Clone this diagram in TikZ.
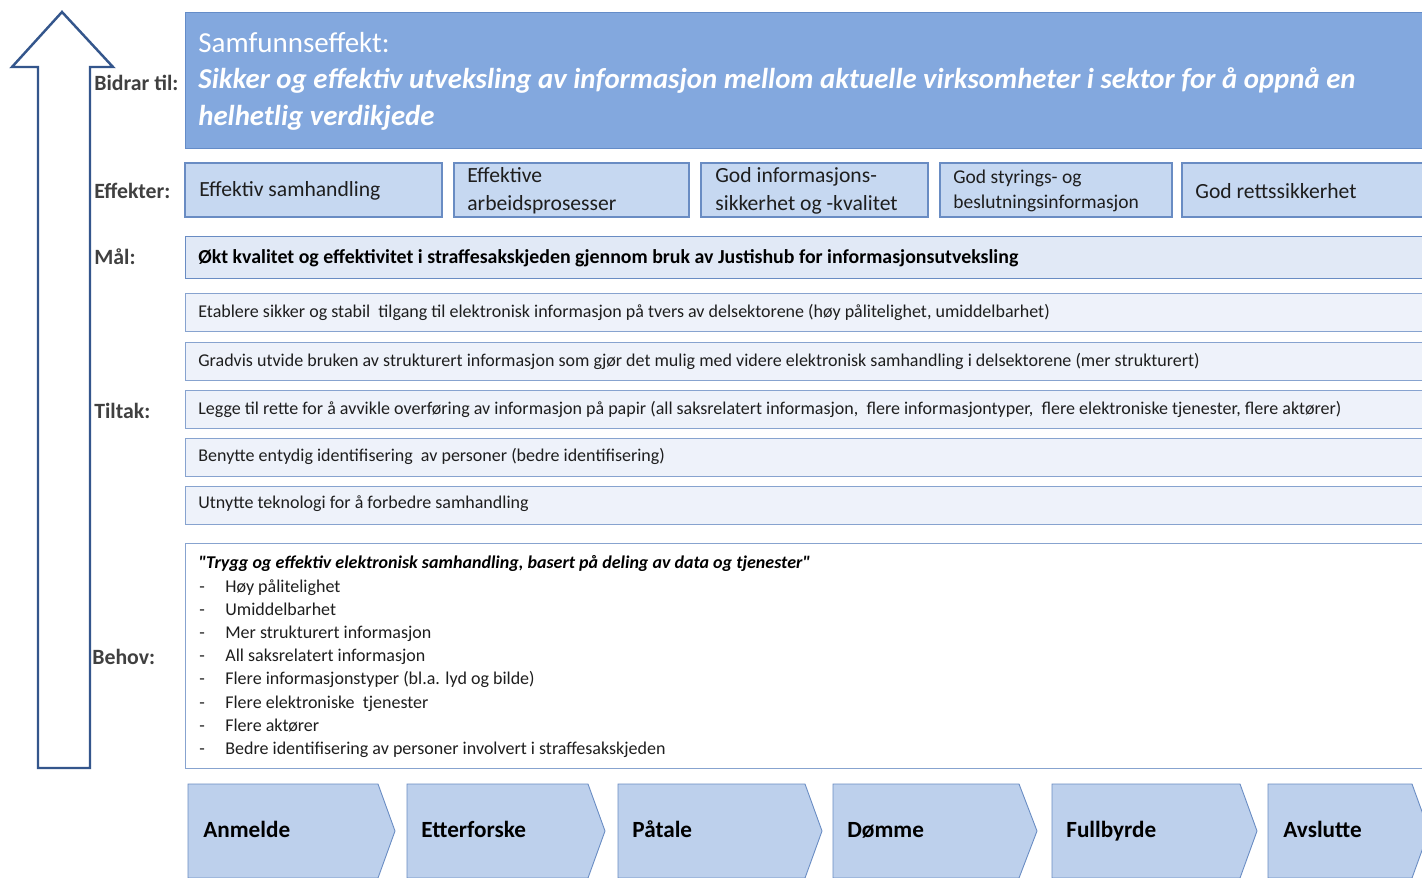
\documentclass[tikz,border=0pt]{standalone}
\usepackage{fontspec}
\setmainfont{Carlito}
\usepackage{xcolor}
\usepackage{tikz}
\definecolor{topblue}{RGB}{131,168,222}
\definecolor{topedge}{RGB}{100,140,200}
\definecolor{effblue}{RGB}{198,216,241}
\definecolor{boxedge}{RGB}{105,140,195}
\definecolor{maalblue}{RGB}{225,233,246}
\definecolor{tiltblue}{RGB}{238,242,250}
\definecolor{stegblue}{RGB}{189,208,236}
\definecolor{arrowblue}{RGB}{52,86,140}
\definecolor{lblgray}{RGB}{64,64,64}
\definecolor{txtblack}{RGB}{30,30,30}
\newcommand{\rettanf}{{\addfontfeatures{Ligatures=TeXOff}"}}

\begin{document}
\begin{tikzpicture}[x=0.02cm, y=-0.02cm,
    lbl/.style={anchor=west, inner sep=0pt, text=lblgray,
      font=\bfseries\fontsize{12.4}{14}\selectfont},
    txt/.style={anchor=west, inner sep=0pt, text=txtblack, align=left},
    tilt/.style={txt, font=\fontsize{10.25}{12}\selectfont},
    steg/.style={txt, text=black, text height=0.7em, text depth=0.22em,
      font=\bfseries\fontsize{13.2}{15}\selectfont},
    topbox/.style={fill=topblue, draw=topedge, line width=0.5pt},
    effbox/.style={fill=effblue, draw=boxedge, line width=0.6pt},
    maalbox/.style={fill=maalblue, draw=boxedge, line width=0.5pt},
    tiltbox/.style={fill=tiltblue, draw=boxedge!80, line width=0.5pt},
    behovbox/.style={fill=white, draw=boxedge!80, line width=0.5pt},
    stegbox/.style={fill=stegblue, draw=boxedge, line width=0.5pt}]
  \clip (0,0) rectangle (1422,878);
  \fill[white] (0,0) rectangle (1422,878);

  % pil oppover
  \draw[arrowblue, line width=1.4pt, line join=miter]
    (38,768) -- (38,67) -- (12,67) -- (62,12) -- (113,67) -- (90,67) -- (90,768) -- cycle;

  % venstre etiketter
  \node[lbl] (Bidrar) at (94,83) {Bidrar til:};
  \node[lbl] (Effekter) at (94,191) {Effekter:};
  \node[lbl] (Maal) at (94,257) {Mål:};
  \node[lbl] (Tiltak) at (94,411) {Tiltak:};
  \node[lbl] (Behov) at (92,657) {Behov:};

  % samfunnseffekt
  \draw[topbox] (185,12) rectangle (1440,148);
  \node[txt, text=white, font=\fontsize{16.5}{21}\selectfont] (Samf) at (198,43) {Samfunnseffekt:};
  \node[txt, text=white, font=\bfseries\itshape\fontsize{16.4}{21}\selectfont] (SamfTekst) at (198,99)
    {Sikker og effektiv utveksling av informasjon mellom aktuelle virksomheter i sektor for å oppnå en\\
     helhetlig verdikjede};

  % effekter
  \draw[effbox] (185,163) rectangle (442,217);
  \draw[effbox] (454,163) rectangle (689,217);
  \draw[effbox] (701,163) rectangle (928,217);
  \draw[effbox] (940,163) rectangle (1172,217);
  \draw[effbox] (1182,163) rectangle (1440,217);
  \node[txt, font=\fontsize{12.3}{16}\selectfont] (Effekt1) at (199,191) {Effektiv samhandling};
  \node[txt, font=\fontsize{12.3}{16}\selectfont] (Effekt2) at (467,191) {Effektive\\arbeidsprosesser};
  \node[txt, font=\fontsize{12.3}{16}\selectfont] (Effekt3) at (715,191) {God informasjons-\\sikkerhet og -kvalitet};
  \node[txt, font=\fontsize{11.1}{14.2}\selectfont] (Effekt4) at (953,191) {God styrings- og\\beslutningsinformasjon};
  \node[txt, font=\fontsize{12.3}{16}\selectfont] (Effekt5) at (1195,191) {God rettssikkerhet};

  % maal
  \draw[maalbox] (185,236) rectangle (1440,278);
  \node[txt, font=\bfseries\fontsize{11.3}{13}\selectfont, text=black] (MaalTekst) at (198,258)
    {Økt kvalitet og effektivitet i straffesakskjeden gjennom bruk av Justishub for informasjonsutveksling};

  % tiltak
  \draw[tiltbox] (185,293) rectangle (1440,331);
  \draw[tiltbox] (185,342) rectangle (1440,380);
  \draw[tiltbox] (185,390) rectangle (1440,428);
  \draw[tiltbox] (185,438) rectangle (1440,476);
  \draw[tiltbox] (185,486) rectangle (1440,524);
  \node[tilt] (Tiltak1) at (198,312)
    {Etablere sikker og stabil\ \ tilgang til elektronisk informasjon på tvers av delsektorene (høy pålitelighet, umiddelbarhet)};
  \node[tilt] (Tiltak2) at (198,361)
    {Gradvis utvide bruken av strukturert informasjon som gjør det mulig med videre elektronisk samhandling i delsektorene (mer strukturert)};
  \node[tilt] (Tiltak3) at (198,409)
    {Legge til rette for å avvikle overføring av informasjon på papir (all saksrelatert informasjon,\ \ flere informasjontyper,\ \ flere elektroniske tjenester, flere aktører)};
  \node[tilt] (Tiltak4) at (198,456)
    {Benytte entydig identifisering\ \ av personer (bedre identifisering)};
  \node[tilt] (Tiltak5) at (198,504)
    {Utnytte teknologi for å forbedre samhandling};

  % behov
  \draw[behovbox] (185,543) rectangle (1440,768);
  \node[txt, font=\bfseries\itshape\fontsize{10.25}{12}\selectfont, text=black] (BehovTittel) at (198,563)
    {\rettanf Trygg og effektiv elektronisk samhandling, basert på deling av data og tjenester\rettanf};
  \node[txt, anchor=north west, font=\fontsize{10.25}{13.2}\selectfont] (BehovListe) at (199,579)
    {\makebox[14.8pt][l]{-}Høy pålitelighet\\
     \makebox[14.8pt][l]{-}Umiddelbarhet\\
     \makebox[14.8pt][l]{-}Mer strukturert informasjon\\
     \makebox[14.8pt][l]{-}All saksrelatert informasjon\\
     \makebox[14.8pt][l]{-}Flere informasjonstyper (bl.a. lyd og bilde)\\
     \makebox[14.8pt][l]{-}Flere elektroniske\ \ tjenester\\
     \makebox[14.8pt][l]{-}Flere aktører\\
     \makebox[14.8pt][l]{-}Bedre identifisering av personer involvert i straffesakskjeden};

  % straffesakskjeden
  \draw[stegbox] (188,784) -- (378,784) -- (395,831) -- (378,878) -- (188,878) -- cycle;
  \draw[stegbox] (407,784) -- (588,784) -- (605,831) -- (588,878) -- (407,878) -- cycle;
  \draw[stegbox] (618,784) -- (805,784) -- (822,831) -- (805,878) -- (618,878) -- cycle;
  \draw[stegbox] (833,784) -- (1019,784) -- (1037,831) -- (1019,878) -- (833,878) -- cycle;
  \draw[stegbox] (1052,784) -- (1240,784) -- (1257,831) -- (1240,878) -- (1052,878) -- cycle;
  \draw[stegbox] (1268,784) -- (1412,784) -- (1429,831) -- (1412,878) -- (1268,878) -- cycle;
  \node[steg] (Steg1) at (203,833) {Anmelde};
  \node[steg] (Steg2) at (421,833) {Etterforske};
  \node[steg] (Steg3) at (632,833) {Påtale};
  \node[steg] (Steg4) at (847,833) {Dømme};
  \node[steg] (Steg5) at (1066,833) {Fullbyrde};
  \node[steg] (Steg6) at (1283,833) {Avslutte};
\end{tikzpicture}
\end{document}
